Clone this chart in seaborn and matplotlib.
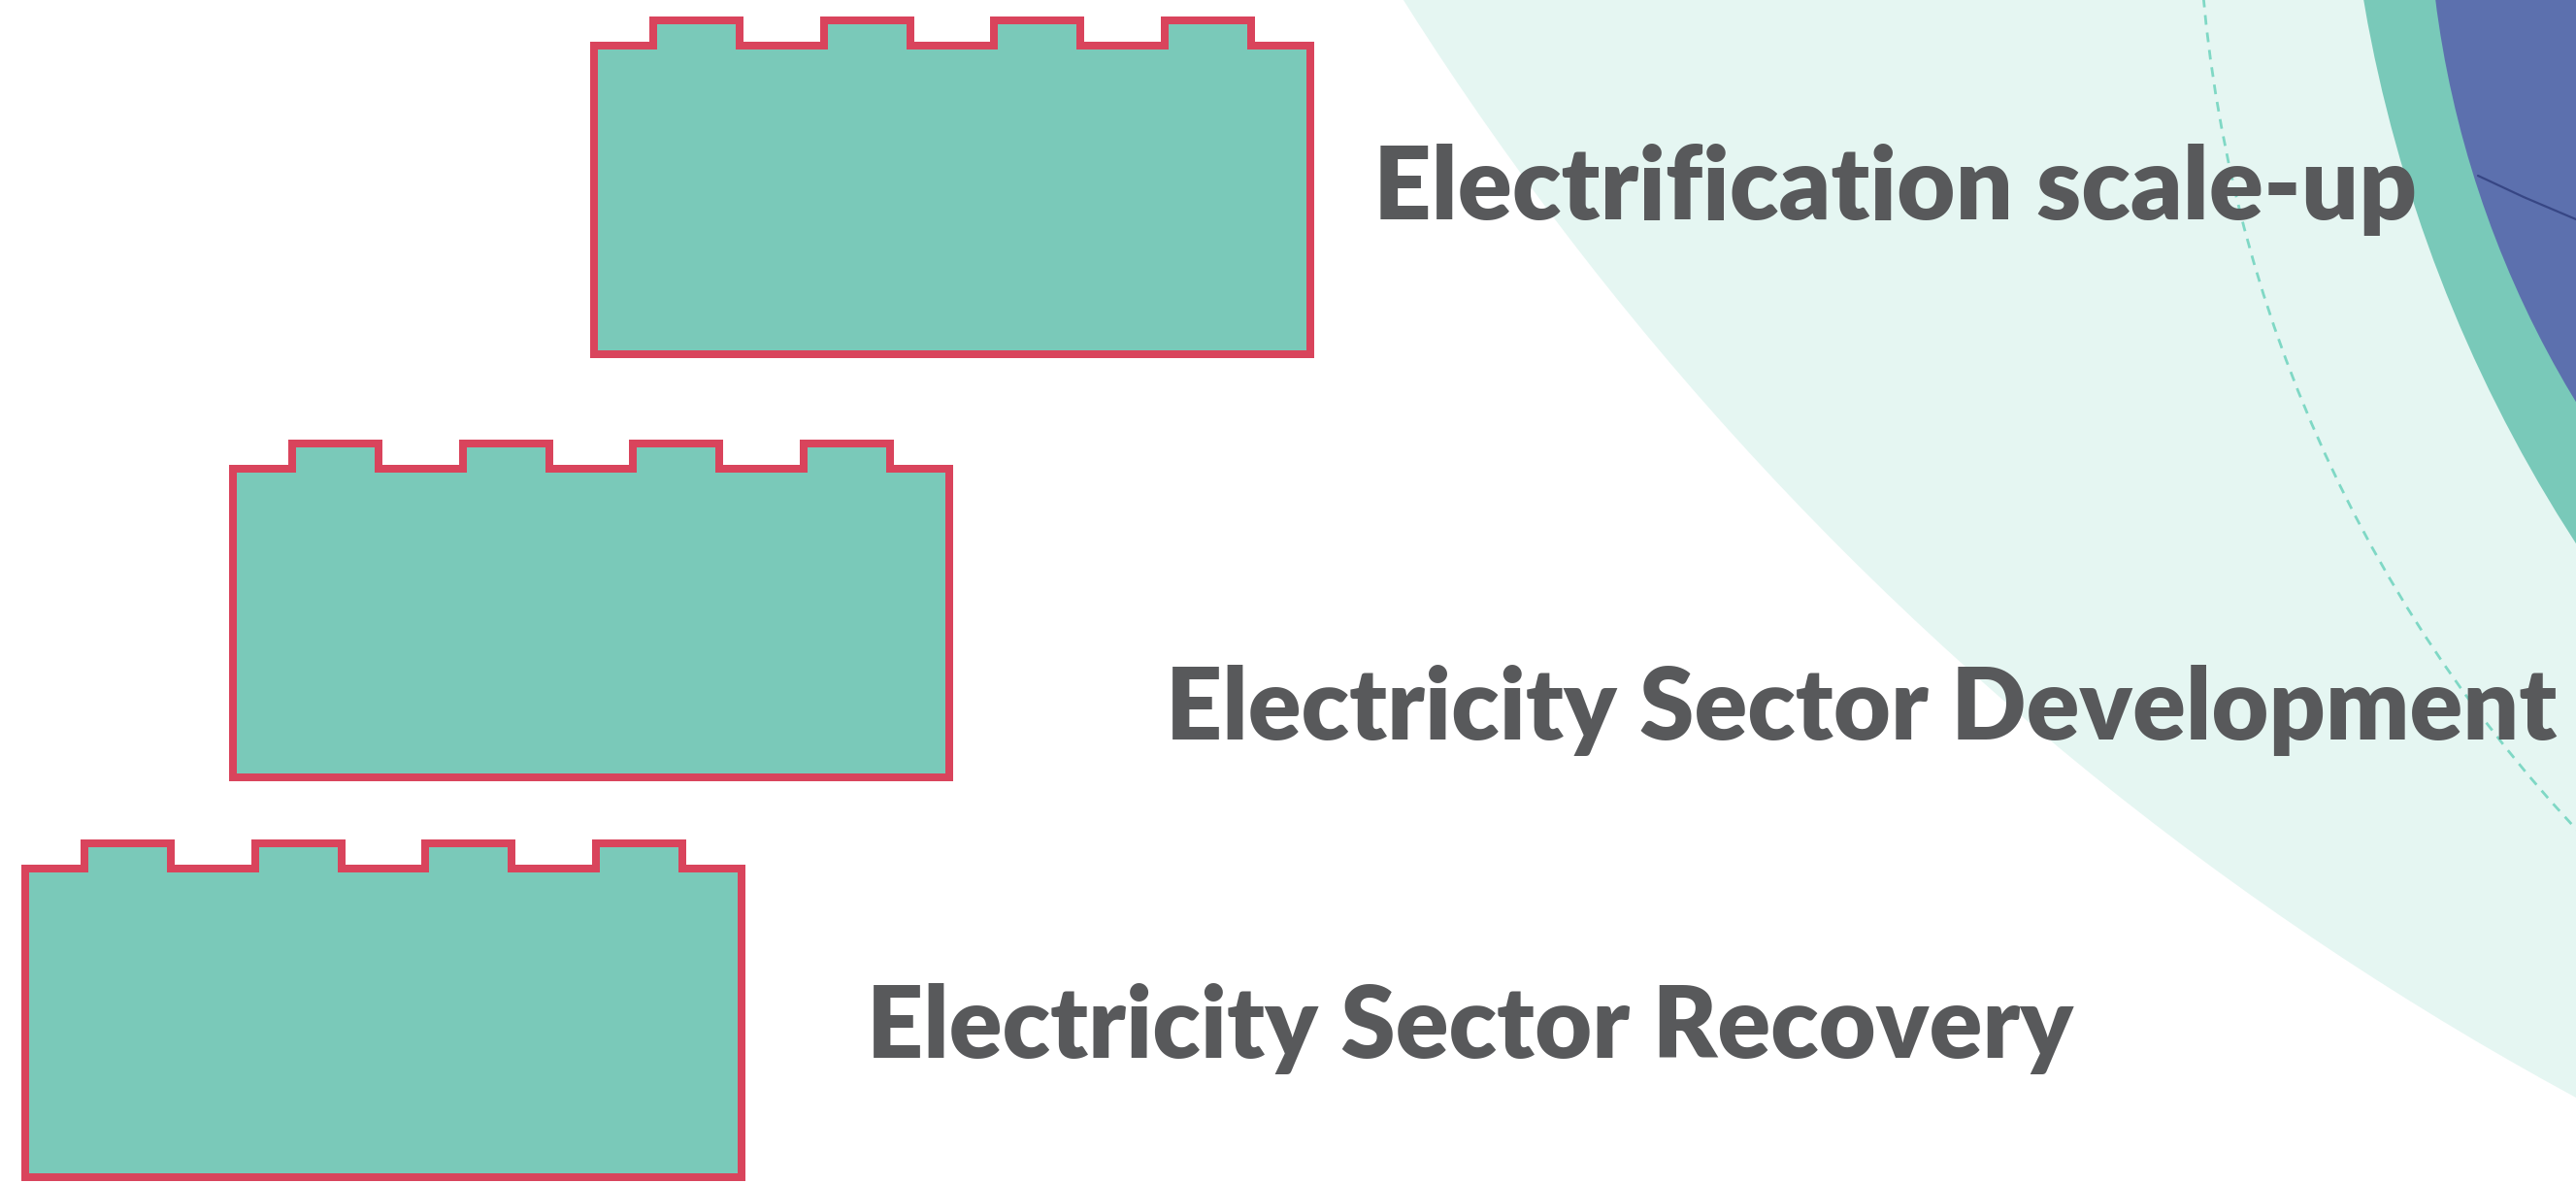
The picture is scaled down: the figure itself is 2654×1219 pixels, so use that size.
import matplotlib
matplotlib.use("Agg")
import matplotlib.pyplot as plt
from matplotlib.patches import Circle, Polygon
import seaborn as sns

# stages, top brick first
stages = ["Electrification scale-up", "Electricity Sector Development", "Electricity Sector Recovery"]
brick_left = [608, 236, 22]
brick_top = [43, 479, 891]
label_left = [1415, 1201, 893]
label_right = [2491, 2633, 2136]
label_base = [226, 762, 1090]

W, H = 2654, 1219
BRICK_W, BRICK_H = 746, 326
STUD_H, STUD_W, STUD_OFF, STUD_GAP = 26, 97, 61, 175.5
LW = 8  # outline width in px

brick_fill = "#7AC9B9"
brick_edge = "#D9445C"
text_col = "#58595B"
light_bg = "#E5F6F2"
band_col = "#79C9B9"
blue_col = "#5C70AE"
dash_col = "#7FD8C5"

sns.set_theme(style="white")
plt.rcParams["font.family"] = ["Lato", "DejaVu Sans"]

fig = plt.figure(figsize=(W / 100, H / 100), dpi=100)
ax = fig.add_axes([0, 0, 1, 1])
ax.set_xlim(0, W)
ax.set_ylim(H, 0)
ax.axis("off")

# background arcs in the top-right corner
ax.add_patch(Circle((4212, -1744), 3270, color=light_bg, lw=0, zorder=0))
ax.add_patch(Circle((3716, -136), 1452, fill=False, edgecolor=dash_col, lw=2,
                    linestyle=(0, (3.6, 2.9)), zorder=1))
ax.add_patch(Circle((3901, -250), 1487, color=band_col, lw=0, zorder=2))
ax.add_patch(Circle((3549, -131), 1048, color=blue_col, lw=0, zorder=3))
ax.plot([2553, 2600, 2654], [181, 203, 226], color="#2E3C7A", lw=1.6, alpha=0.8, zorder=4)


def brick_points(left, top):
    h = LW / 2
    l, r = left + h, left + BRICK_W - h
    t, b = top + h, top + BRICK_H - h
    st = top - STUD_H + h
    pts = [(l, b), (l, t)]
    for k in range(4):
        sx0 = left + STUD_OFF + k * STUD_GAP + h
        sx1 = left + STUD_OFF + k * STUD_GAP + STUD_W - h
        pts += [(sx0, t), (sx0, st), (sx1, st), (sx1, t)]
    pts += [(r, t), (r, b)]
    return pts


for left, top in zip(brick_left, brick_top):
    ax.add_patch(Polygon(brick_points(left, top), closed=True, facecolor=brick_fill,
                         edgecolor=brick_edge, lw=LW * 0.72, joinstyle="miter", zorder=5))

renderer = fig.canvas.get_renderer()
for name, x0, x1, yb in zip(stages, label_left, label_right, label_base):
    t = ax.text(x0, yb, name, fontsize=72, fontweight=800, color=text_col,
                ha="left", va="baseline", zorder=6)
    bb = t.get_window_extent(renderer)
    t.set_fontsize(72 * (x1 - x0) / bb.width)

fig.savefig("out.png", dpi=100)
